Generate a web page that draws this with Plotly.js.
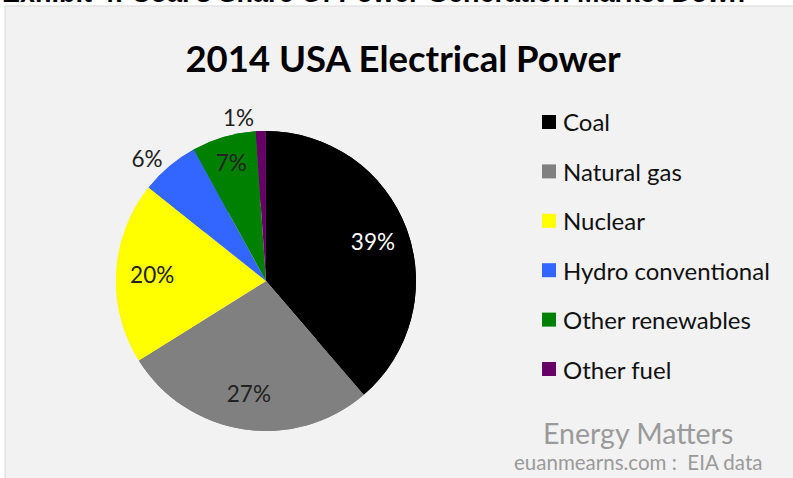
<!DOCTYPE html>
<html>
<head>
<meta charset="utf-8">
<script src="https://cdn.plot.ly/plotly-3.0.1.min.js"></script>
<style>html,body{margin:0;padding:0;background:#fff;}#chart{width:793px;height:478px;}</style>
</head>
<body>
<div id="chart"></div>
<script>
// Data
const categories = ["Coal", "Natural gas", "Nuclear", "Hydro conventional", "Other renewables", "Other fuel"];
const shares = [38.7, 27.4, 19.6, 6.3, 6.9, 1.1];
const colors = ["#000000", "#808080", "#ffff00", "#3366ff", "#008000", "#660066"];
const labelColors = ["#ffffff", "#222222", "#222222", "#222222", "#222222", "#222222"];
const labelPositions = ["inside", "inside", "inside", "outside", "inside", "outside"];
const chartTitle = "2014 USA Electrical Power";
const headerText = "Exhibit 4: Coal's Share Of Power Generation Market Down";
const creditMain = "Energy Matters";
const creditSub = "euanmearns.com :  EIA data";

const W = 793, H = 478;
const px = x => x / W;
const py = y => 1 - y / H;
const FONT = "Lato, 'Open Sans', sans-serif";
const pieDomain = {x: [px(116), px(416)], y: [py(431), py(131)]};

// full pie (slices)
const basePie = {
  type: "pie",
  labels: categories,
  values: shares,
  sort: false,
  direction: "clockwise",
  rotation: 0,
  marker: {colors: colors, line: {width: 0}},
  textinfo: "none",
  domain: pieDomain,
  showlegend: false,
  hoverinfo: "label+percent"
};
// same slices drawn as a ring on top, carrying the percent labels further out
const labelPie = {
  type: "pie",
  labels: categories,
  values: shares,
  sort: false,
  direction: "clockwise",
  rotation: 0,
  hole: 0.52,
  marker: {colors: colors, line: {width: 0}},
  textinfo: "percent",
  texttemplate: "%{percent:.0%}",
  textposition: labelPositions,
  insidetextorientation: "horizontal",
  textfont: {family: FONT, size: 22.5, color: labelColors},
  outsidetextfont: {family: FONT, size: 22.5, color: "#222222"},
  domain: pieDomain,
  showlegend: false,
  hoverinfo: "label+percent"
};

const shapes = [{
  type: "rect", xref: "paper", yref: "paper",
  x0: px(5), x1: px(800), y0: py(485), y1: py(6),
  fillcolor: "#f2f2f2", line: {color: "#d9d9d9", width: 1}, layer: "below"
}];
const annotations = [];
const rowY0 = 122, rowStep = 49.4;
categories.forEach((c, i) => {
  const yc = rowY0 + i * rowStep;
  shapes.push({
    type: "rect", xref: "paper", yref: "paper",
    x0: px(542), x1: px(556), y0: py(yc + 7), y1: py(yc - 7),
    fillcolor: colors[i], line: {width: 0}
  });
  annotations.push({
    xref: "paper", yref: "paper", x: px(561), y: py(yc),
    xanchor: "left", yanchor: "middle", showarrow: false,
    text: c, font: {family: FONT, size: 24, color: "#111111"}
  });
});
annotations.push({
  xref: "paper", yref: "paper", x: px(638), y: py(433),
  xanchor: "center", yanchor: "middle", showarrow: false,
  text: creditMain, font: {family: FONT, size: 28.5, color: "#9a9a9a"}
});
annotations.push({
  xref: "paper", yref: "paper", x: px(638), y: py(462),
  xanchor: "center", yanchor: "middle", showarrow: false,
  text: creditSub, font: {family: FONT, size: 20.5, color: "#9a9a9a"}
});
annotations.push({
  xref: "paper", yref: "paper", x: px(0), y: py(10),
  xanchor: "left", yanchor: "bottom", showarrow: false,
  text: "<b>" + headerText + "</b>", font: {family: "Liberation Sans, Arial, sans-serif", size: 27, color: "#000000"}
});

const layout = {
  width: W, height: H,
  margin: {l: 0, r: 0, t: 0, b: 0},
  paper_bgcolor: "#ffffff",
  plot_bgcolor: "rgba(0,0,0,0)",
  title: {
    text: "<b>" + chartTitle + "</b>",
    x: px(403), xanchor: "center", y: py(59), yanchor: "middle",
    font: {family: FONT, size: 36.5, color: "#000000"}
  },
  shapes: shapes,
  annotations: annotations,
  showlegend: false
};

Plotly.newPlot("chart", [basePie, labelPie], layout, {displayModeBar: false, staticPlot: true});
</script>
</body>
</html>
